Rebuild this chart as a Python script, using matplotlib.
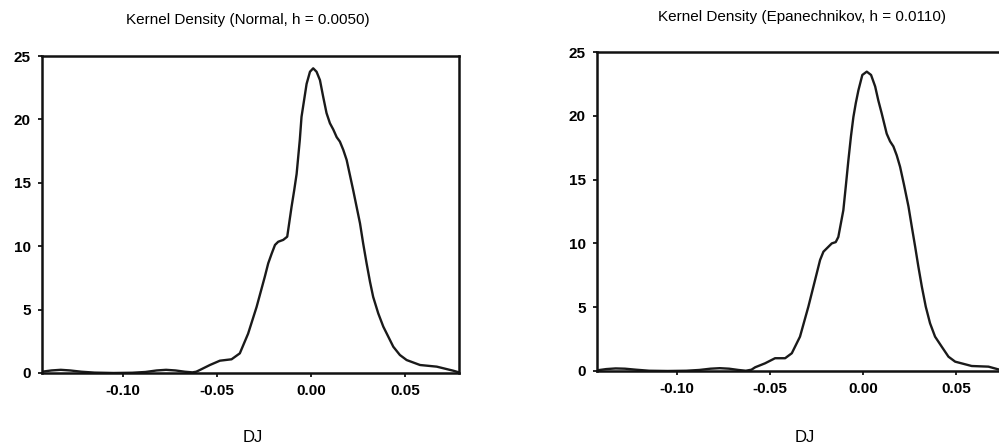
import matplotlib.pyplot as plt

plt.rcParams['font.family'] = ['Liberation Sans', 'DejaVu Sans']

# density estimates for DJ, read on a grid of returns
normal_x = [-0.143, -0.138, -0.133, -0.128, -0.122, -0.115, -0.105, -0.095,
            -0.088, -0.082, -0.077, -0.072, -0.067, -0.063, -0.061, -0.059,
            -0.0537, -0.0484, -0.0422, -0.0378, -0.0334, -0.0289, -0.0245,
            -0.0227, -0.0209, -0.0191, -0.0174, -0.0147, -0.0126, -0.0103,
            -0.0089, -0.0076, -0.0059, -0.0050, -0.0023, -0.0005, 0.0012,
            0.0030, 0.0048, 0.0065, 0.0083, 0.0101, 0.0119, 0.0137, 0.0154,
            0.0172, 0.0190, 0.0225, 0.0243, 0.0261, 0.0278, 0.0296, 0.0314,
            0.0331, 0.0358, 0.0385, 0.0438, 0.0473, 0.0509, 0.0580, 0.0669,
            0.0757, 0.0787]
normal_y = [0.10, 0.20, 0.25, 0.20, 0.10, 0.03, 0.00, 0.02,
            0.08, 0.20, 0.25, 0.20, 0.10, 0.05, 0.10, 0.24,
            0.63, 0.97, 1.08, 1.55, 3.10, 5.20, 7.60,
            8.65, 9.40, 10.10, 10.35, 10.50, 10.75, 13.10,
            14.40, 15.70, 18.40, 20.20, 22.80, 23.76, 24.03,
            23.76, 23.10, 21.80, 20.50, 19.70, 19.20, 18.60, 18.25,
            17.60, 16.80, 14.40, 13.10, 11.80, 10.20, 8.65, 7.20,
            6.00, 4.70, 3.65, 2.07, 1.42, 1.02, 0.63, 0.50,
            0.18, 0.05]

epan_x = [-0.143, -0.138, -0.133, -0.128, -0.122, -0.115, -0.105, -0.095,
          -0.088, -0.082, -0.077, -0.072, -0.067, -0.063, -0.060, -0.058,
          -0.0527, -0.0473, -0.0419, -0.0383, -0.0339, -0.0294, -0.0249,
          -0.0231, -0.0213, -0.0168, -0.0147, -0.0133, -0.0106, -0.0093,
          -0.0079, -0.0065, -0.0052, -0.0039, -0.0025, -0.0004, 0.0020,
          0.0043, 0.0065, 0.0082, 0.0100, 0.0127, 0.0145, 0.0163, 0.0181,
          0.0199, 0.0220, 0.0244, 0.0262, 0.0280, 0.0297, 0.0316, 0.0337,
          0.0360, 0.0387, 0.0423, 0.0459, 0.0495, 0.0584, 0.0674, 0.0726,
          0.0787]
epan_y = [0.05, 0.15, 0.20, 0.18, 0.10, 0.02, 0.00, 0.02,
          0.08, 0.18, 0.22, 0.18, 0.08, 0.02, 0.10, 0.29,
          0.60, 1.00, 1.00, 1.39, 2.69, 5.04, 7.65,
          8.70, 9.35, 10.00, 10.10, 10.50, 12.60, 14.45,
          16.50, 18.40, 19.90, 21.00, 22.00, 23.20, 23.46,
          23.20, 22.30, 21.20, 20.20, 18.60, 18.00, 17.60, 16.90,
          16.00, 14.60, 12.90, 11.30, 9.74, 8.20, 6.60, 5.04,
          3.74, 2.69, 1.90, 1.12, 0.73, 0.39, 0.34, 0.13,
          0.02]

xticks = [-0.10, -0.05, 0.00, 0.05]
xticklabels = ['-0.10', '-0.05', '0.00', '0.05']
yticks = [0, 5, 10, 15, 20, 25]

fig = plt.figure(figsize=(9.99, 4.46), dpi=100)

panels = [
    ([0.042, 0.1637, 0.4174, 0.7107], normal_x, normal_y,
     'Kernel Density (Normal, h = 0.0050)', 0.248, 0.955, 0.253),
    ([0.5976, 0.1682, 0.4129, 0.7152], epan_x, epan_y,
     'Kernel Density (Epanechnikov, h = 0.0110)', 0.803, 0.962, 0.806),
]

for rect, xs, ys, ttl, tx, ty, lx in panels:
    ax = fig.add_axes(rect)
    ax.plot(xs, ys, color='#1a1a1a', lw=1.7, solid_joinstyle='round')
    ax.set_xlim(-0.143, 0.0787)
    ax.set_ylim(0, 25)
    ax.set_xticks(xticks)
    ax.set_xticklabels(xticklabels)
    ax.set_yticks(yticks)
    ax.tick_params(direction='out', length=3, width=1.2, pad=5,
                   labelsize=11)
    for lab in ax.get_xticklabels() + ax.get_yticklabels():
        lab.set_fontweight('bold')
    for sp in ax.spines.values():
        sp.set_linewidth(1.8)
        sp.set_color('#111111')
    fig.text(tx, ty, ttl, ha='center', va='center', fontsize=11)
    fig.text(lx, 0.02, 'DJ', ha='center', va='center', fontsize=12)

fig.savefig('out.png', dpi=100)
